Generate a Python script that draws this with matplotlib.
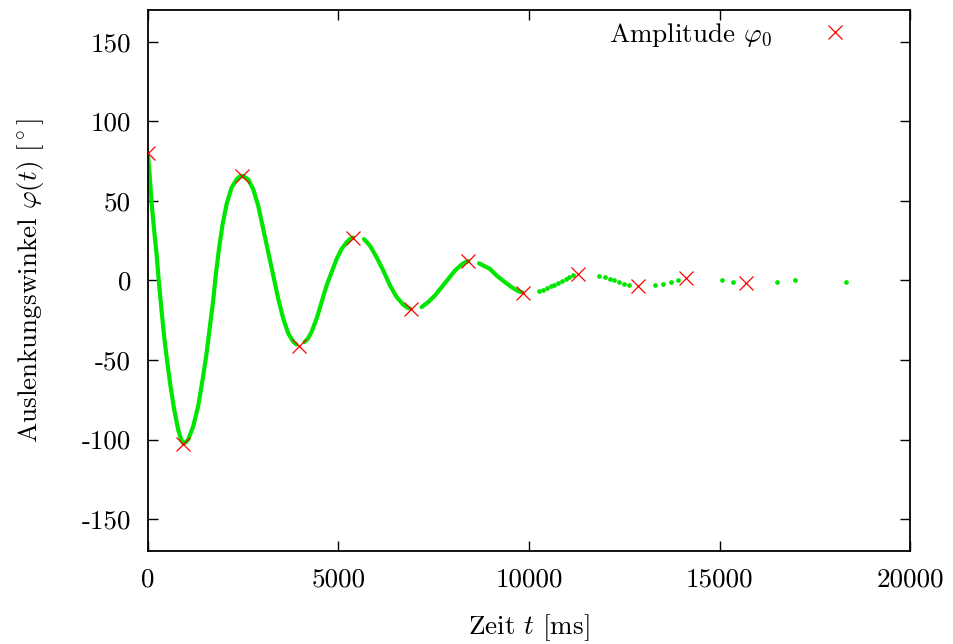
import numpy as np
import matplotlib
matplotlib.use("Agg")
from matplotlib import pyplot as plt

plt.rcParams['font.family'] = 'serif'
plt.rcParams['font.serif'] = ['cmr10']
plt.rcParams['mathtext.fontset'] = 'cm'
plt.rcParams['axes.unicode_minus'] = False
plt.rcParams['axes.formatter.use_mathtext'] = False

# dichter Teil der Messung (Zeit in ms, Winkel in Grad)
t_dense = [0, 45, 97, 157, 228, 289, 359, 428, 507, 596, 690, 795, 880, 930, 980,
           1058, 1189, 1320, 1435, 1540, 1627, 1714, 1785, 1871, 1961, 2066, 2196,
           2327, 2400, 2460, 2530, 2633, 2765, 2896, 3027, 3159, 3290, 3421, 3552,
           3684, 3815, 3900,
           4110, 4200, 4296, 4427, 4559, 4690, 4821, 4953, 5084, 5215, 5310, 5389,
           5669, 5827, 6002, 6177, 6352, 6527, 6702, 6800, 6877,
           7183, 7358, 7533, 7708, 7883, 8058, 8233, 8330, 8410,
           8688, 8801, 8976, 9151, 9340, 9545, 9720, 9830]
phi_dense = [80, 66.7, 49, 33.3, 16.7, -1, -18.8, -35.4, -51, -66.7, -81, -93.8, -100.5, -102.3, -102,
             -100, -91.7, -79, -62.5, -45.8, -29, -12.5, 4.2, 20.8, 35.4, 48, 58.3,
             63.5, 65.2, 65.8, 65.2, 63.5, 57.3, 46.9, 32.3, 17.7, 3.1, -11.5, -24,
             -33.3, -38.5, -40.2,
             -38.7, -36.5, -32.3, -24, -13.5, -3.1, 5.2, 13.5, 19.8, 24, 26.2, 27,
             26, 21.9, 14.6, 6.25, -3.1, -10.4, -15.2, -16.9, -17.7,
             -16.7, -13.5, -9.4, -4.2, 1, 6.25, 10, 11.5, 12.1,
             10.8, 9.4, 7.3, 3.1, -0.5, -4.2, -6.7, -7.5]

# einzelne Messpunkte bei kleiner Amplitude
t_sparse = [10262, 10376, 10480, 10570, 10664, 10769, 10866, 10963, 11050, 11147,
            11837, 11995, 12118, 12239, 12362, 12486, 12633,
            13299, 13525, 13719, 13903, 15058, 15346, 16517, 16982, 18320]
phi_sparse = [-6.9, -5.8, -4.8, -3.75, -2.7, -1.4, -0.2, 0.8, 2.1, 3.3,
              3.1, 1.9, 0.8, 0, -1.0, -1.9, -2.7,
              -2.7, -1.9, -0.8, 0.2, 0, -0.8, -0.8, 0, -0.8]

# Amplituden
t_amp = [0, 927, 2465, 3972, 5389, 6894, 8407, 9851, 11294, 12869, 14121, 15696]
phi_amp = [80, -102.5, 65.5, -41, 27, -17.7, 12.1, -7.9, 4.2, -3.75, 1.6, -1.7]

green = '#00e600'
fs = 19.5

fig = plt.figure(figsize=(9.54, 6.44), dpi=100)
ax = fig.add_axes([0.155, 0.1444, 0.799, 0.8401])

# Linie an Messluecken auftrennen
t = np.array(t_dense, dtype=float)
p = np.array(phi_dense, dtype=float)
breaks = np.where(np.diff(t) > 205)[0] + 1
for seg_t, seg_p in zip(np.split(t, breaks), np.split(p, breaks)):
    ax.plot(seg_t, seg_p, color=green, lw=3.0, solid_capstyle='round',
            solid_joinstyle='round', zorder=2)

ax.plot(t_sparse, phi_sparse, 'o', color=green, ms=3.4, mew=0, zorder=2)
ax.plot(t_amp, phi_amp, 'x', color='red', ms=10, mew=0.9, zorder=3,
        label=r'Amplitude $\varphi_0$')

ax.set_xlim(0, 20000)
ax.set_ylim(-170, 170)
ax.set_xticks([0, 5000, 10000, 15000, 20000])
ax.set_yticks([-150, -100, -50, 0, 50, 100, 150])
ax.tick_params(direction='in', length=7, width=1.0, top=True, right=True,
               labelsize=fs, pad=12)
for s in ax.spines.values():
    s.set_linewidth(1.3)

ax.set_xlabel(r'Zeit $t$ [ms]', fontsize=fs, labelpad=15)
ax.set_ylabel(r'Auslenkungswinkel $\varphi(t)$ [$^\circ$]', fontsize=fs, labelpad=26)

ax.legend(loc='upper right', bbox_to_anchor=(0.942, 1.0), frameon=False,
          markerfirst=False, fontsize=fs, handlelength=1.5, handletextpad=1.55,
          borderaxespad=0.0)

fig.savefig('out.png', dpi=100)
